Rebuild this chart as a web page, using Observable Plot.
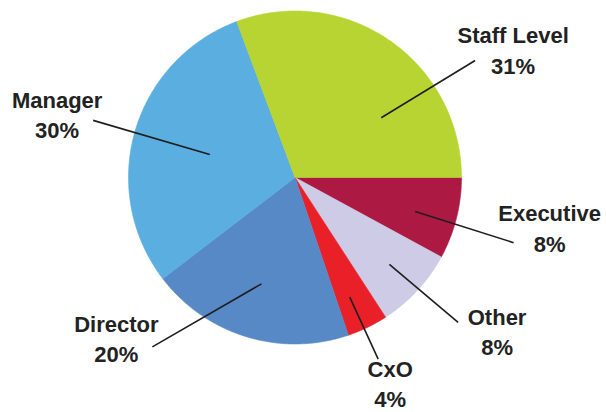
<!DOCTYPE html>
<html>
<head>
<meta charset="utf-8">
<script src="https://cdn.jsdelivr.net/npm/d3@7"></script>
<script src="https://cdn.jsdelivr.net/npm/@observablehq/plot@0.6"></script>
<style>
  html, body { margin: 0; padding: 0; background: #ffffff; }
  #chart { width: 606px; height: 412px; }
</style>
</head>
<body>
<div id="chart"></div>
<script>
// ---- data ----
const categories = ["Executive", "Other", "CxO", "Director", "Manager", "Staff Level"];
const values = [8, 8, 4, 20, 30, 31];
const labels = ["8%", "8%", "4%", "20%", "30%", "31%"];
const colors = ["#ac1a44", "#cdcbe6", "#ea2029", "#5789c6", "#5aaee0", "#b8d432"];

// ---- layout (pixels / degrees, clockwise from 3 o'clock) ----
const W = 606, H = 412;
const cx = 294.5, cy = 177, R = 166.5;
// leader line: inner/outer angle (deg) & radius factor; text offset from outer end
const labelLayout = [
  {a1: 15.8, r1: 0.75, a2: 16.6, r2: 1.37, dx: 36, dy: 9},
  {a1: 42.6, r1: 0.77, a2: 41.6, r2: 1.31, dx: 39, dy: 33},
  {a1: 65.4, r1: 0.79, a2: 65.4, r2: 1.20, dx: 12, dy: 48},
  {a1: 107.5, r1: 0.67, a2: 130.1, r2: 1.33, dx: -36, dy: 15},
  {a1: 195.1, r1: 0.53, a2: 195.8, r2: 1.26, dx: -36, dy: 18},
  {a1: 325.3, r1: 0.63, a2: 327.0, r2: 1.29, dx: 38, dy: 13}
];

const rad = d => d * Math.PI / 180;
const pie = d3.pie().sort(null).value(d => d.value).startAngle(0).endAngle(2 * Math.PI);
const rows = categories.map((c, i) => ({category: c, value: values[i], label: labels[i], i}));
const arcs = pie(rows);

// slice polygons (angles measured clockwise from east in screen coords)
const polys = [];
arcs.forEach(a => {
  const cat = a.data.category;
  polys.push({category: cat, x: cx, y: cy});
  const n = Math.max(2, Math.ceil((a.endAngle - a.startAngle) / rad(0.5)));
  for (let k = 0; k <= n; k++) {
    const t = a.startAngle + (a.endAngle - a.startAngle) * k / n;
    polys.push({category: cat, x: cx + R * Math.cos(t), y: cy + R * Math.sin(t)});
  }
  polys.push({category: cat, x: cx, y: cy});
});

const leaders = rows.map((r, i) => {
  const L = labelLayout[i];
  const x1 = cx + R * L.r1 * Math.cos(rad(L.a1)), y1 = cy + R * L.r1 * Math.sin(rad(L.a1));
  const x2 = cx + R * L.r2 * Math.cos(rad(L.a2)), y2 = cy + R * L.r2 * Math.sin(rad(L.a2));
  return {category: r.category, x1, y1, x2, y2, tx: x2 + L.dx, ty: y2 + L.dy,
          text: r.category + "\n" + r.label};
});

const chart = Plot.plot({
  width: W, height: H,
  margin: 0,
  style: {background: "#ffffff", overflow: "visible"},
  x: {domain: [0, W], range: [0, W], axis: null},
  y: {domain: [0, H], range: [0, H], axis: null},
  color: {domain: categories, range: colors},
  marks: [
    Plot.line(polys, {x: "x", y: "y", z: "category", fill: "category", stroke: "category",
                      strokeWidth: 0.6, curve: "linear"}),
    Plot.link(leaders, {x1: "x1", y1: "y1", x2: "x2", y2: "y2", stroke: "#1e1e1e", strokeWidth: 1.6}),
    Plot.text(leaders, {x: "tx", y: "ty", text: "text", lineAnchor: "bottom", lineHeight: 1.38,
                        fontSize: 22, fontWeight: "bold", fill: "#222222",
                        fontFamily: "Liberation Sans, Arial, sans-serif", textAnchor: "middle"})
  ]
});
document.getElementById("chart").appendChild(chart);
</script>
</body>
</html>
